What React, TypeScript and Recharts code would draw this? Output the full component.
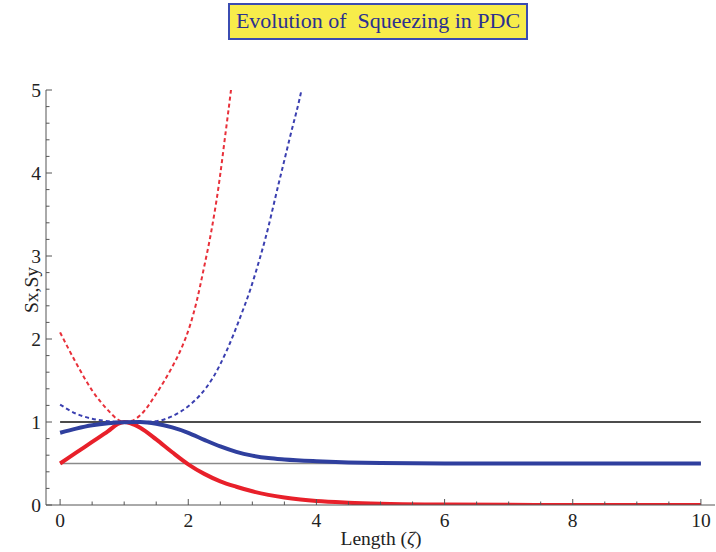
import React from "react";
import { LineChart, Line, XAxis, YAxis } from "recharts";

// Sx (solid red)
const sxZeta = [0, 0.25, 0.5, 0.75, 0.9, 1.0, 1.1, 1.25, 1.5, 1.75, 2.0, 2.25, 2.5, 2.75, 3.0, 3.25, 3.5, 3.75, 4.0, 4.5, 5, 6, 7, 8, 10];
const sxVals = [0.5, 0.63, 0.76, 0.89, 0.975, 1.0, 0.985, 0.93, 0.79, 0.635, 0.49, 0.375, 0.285, 0.22, 0.165, 0.122, 0.09, 0.066, 0.048, 0.028, 0.016, 0.006, 0.002, 0.001, 0];

// Sy (solid blue)
const syZeta = [0, 0.25, 0.5, 0.75, 1.0, 1.25, 1.5, 1.75, 2.0, 2.25, 2.5, 2.75, 3.0, 3.25, 3.5, 4.0, 4.5, 5, 6, 8, 10];
const syVals = [0.87, 0.92, 0.96, 0.985, 0.998, 1.0, 0.98, 0.935, 0.87, 0.785, 0.705, 0.64, 0.595, 0.565, 0.548, 0.527, 0.513, 0.506, 0.501, 0.5, 0.5];

// dashed red
const rdZeta = [0, 0.25, 0.5, 0.75, 0.9, 1.0, 1.1, 1.25, 1.5, 1.75, 1.9, 2.03, 2.13, 2.24, 2.36, 2.47, 2.58, 2.67, 2.72];
const rdVals = [2.08, 1.71, 1.38, 1.14, 1.03, 1.0, 1.01, 1.08, 1.34, 1.665, 1.9, 2.17, 2.45, 2.84, 3.3, 3.82, 4.47, 5.02, 5.35];

// dashed blue
const bdZeta = [0, 0.25, 0.5, 0.75, 1.0, 1.25, 1.5, 1.75, 2.0, 2.18, 2.39, 2.6, 2.81, 2.97, 3.12, 3.2, 3.41, 3.59, 3.78, 3.84];
const bdVals = [1.21, 1.1, 1.04, 1.01, 1.0, 1.0, 1.01, 1.07, 1.19, 1.32, 1.54, 1.86, 2.26, 2.6, 2.98, 3.2, 3.87, 4.44, 5.05, 5.3];

// reference levels
const levelZeta = [0, 10];
const unitLevel = [1, 1];
const halfLevel = [0.5, 0.5];

const xTicks = [0, 0.5, 1, 1.5, 2, 2.5, 3, 3.5, 4, 4.5, 5, 5.5, 6, 6.5, 7, 7.5, 8, 8.5, 9, 9.5, 10];
const yTicks = [0, 0.2, 0.4, 0.6, 0.8, 1, 1.2, 1.4, 1.6, 1.8, 2, 2.2, 2.4, 2.6, 2.8, 3, 3.2, 3.4, 3.6, 3.8, 4, 4.2, 4.4, 4.6, 4.8, 5];
const xMajor = [0, 2, 4, 6, 8, 10];
const yMajor = [0, 1, 2, 3, 4, 5];

const zip = (xs: number[], ys: number[]) => xs.map((x, i) => ({ x, y: ys[i] }));

const FONT = '"Liberation Serif", "Times New Roman", serif';
const TICK = "#555";
const FS = 19.5;

function BottomTick(props: any) {
  const { x, y, payload } = props;
  const major = xMajor.includes(payload.value);
  return (
    <g>
      <line x1={x} y1={y} x2={x} y2={y - (major ? 6 : 3.5)} stroke={TICK} />
      {major && (
        <text x={x} y={y + 22} textAnchor="middle" fontFamily={FONT} fontSize={FS} fill="#222">
          {payload.value}
        </text>
      )}
    </g>
  );
}

function TopTick(props: any) {
  const { x, y, payload } = props;
  const major = xMajor.includes(payload.value);
  return <line x1={x} y1={y} x2={x} y2={y + (major ? 6 : 3.5)} stroke={TICK} />;
}

function LeftTick(props: any) {
  const { x, y, payload } = props;
  const major = yMajor.includes(payload.value);
  return (
    <g>
      <line x1={x} y1={y} x2={x + (major ? 6 : 3.5)} y2={y} stroke={TICK} />
      {major && (
        <text x={x - 5} y={y + 6.5} textAnchor="end" fontFamily={FONT} fontSize={FS} fill="#222">
          {payload.value}
        </text>
      )}
    </g>
  );
}

function RightTick(props: any) {
  const { x, y, payload } = props;
  const major = yMajor.includes(payload.value);
  return <line x1={x} y1={y} x2={x - (major ? 6 : 3.5)} y2={y} stroke={TICK} />;
}

const xLabel = () => (
  <text x={381} y={545} textAnchor="middle" fontFamily={FONT} fontSize={FS} fill="#222">
    Length (<tspan fontStyle="italic">ζ</tspan>)
  </text>
);

const yLabel = () => (
  <text
    x={38}
    y={290}
    transform="rotate(-90, 38, 290)"
    textAnchor="middle"
    fontFamily={FONT}
    fontSize={FS}
    fill="#222"
  >
    Sx,Sy
  </text>
);

export default function App() {
  return (
    <div style={{ position: "absolute", left: 0, top: 0, width: 716, height: 552, background: "#fff" }}>
      <div
        style={{
          position: "absolute",
          left: 228,
          top: 3,
          width: 300,
          height: 37,
          boxSizing: "border-box",
          background: "#f7ec4a",
          border: "2px solid #3b4cb2",
          color: "#2b3090",
          fontFamily: FONT,
          fontSize: 22,
          lineHeight: "32px",
          textAlign: "center",
          whiteSpace: "pre",
        }}
      >
        Evolution of  Squeezing in PDC
      </div>
      <LineChart width={716} height={552} margin={{ top: 90, right: 1, bottom: 0, left: 0 }}>
        <XAxis
          xAxisId="b"
          dataKey="x"
          type="number"
          domain={[-0.22, 10.22]}
          allowDataOverflow
          ticks={xTicks}
          interval={0}
          tickSize={0}
          tickMargin={0}
          tick={<BottomTick />}
          height={47}
          axisLine={{ stroke: TICK }}
          label={xLabel}
        />
        <XAxis
          xAxisId="t"
          orientation="top"
          dataKey="x"
          type="number"
          domain={[-0.22, 10.22]}
          allowDataOverflow
          ticks={xTicks}
          interval={0}
          tickSize={0}
          tickMargin={0}
          tick={<TopTick />}
          height={0}
          axisLine={{ stroke: TICK }}
        />
        <YAxis
          yAxisId="l"
          type="number"
          domain={[0, 5]}
          allowDataOverflow
          ticks={yTicks}
          interval={0}
          tickSize={0}
          tickMargin={0}
          tick={<LeftTick />}
          width={46}
          axisLine={{ stroke: TICK }}
          label={yLabel}
        />
        <YAxis
          yAxisId="r"
          orientation="right"
          type="number"
          domain={[0, 5]}
          allowDataOverflow
          ticks={yTicks}
          interval={0}
          tickSize={0}
          tickMargin={0}
          tick={<RightTick />}
          width={0}
          axisLine={{ stroke: TICK }}
        />
        <Line xAxisId="b" yAxisId="l" data={zip(levelZeta, halfLevel)} dataKey="y" stroke="#8a8a8a" strokeWidth={1.5} dot={false} isAnimationActive={false} />
        <Line xAxisId="b" yAxisId="l" data={zip(levelZeta, unitLevel)} dataKey="y" stroke="#111" strokeWidth={1.3} dot={false} isAnimationActive={false} />
        <Line xAxisId="b" yAxisId="l" data={zip(rdZeta, rdVals)} dataKey="y" type="monotone" stroke="#e8303a" strokeWidth={2} strokeDasharray="4 3" dot={false} isAnimationActive={false} />
        <Line xAxisId="b" yAxisId="l" data={zip(bdZeta, bdVals)} dataKey="y" type="monotone" stroke="#3a3fb0" strokeWidth={2} strokeDasharray="4 3" dot={false} isAnimationActive={false} />
        <Line xAxisId="b" yAxisId="l" data={zip(sxZeta, sxVals)} dataKey="y" type="monotone" stroke="#e8202a" strokeWidth={4} dot={false} isAnimationActive={false} />
        <Line xAxisId="b" yAxisId="l" data={zip(syZeta, syVals)} dataKey="y" type="monotone" stroke="#2f3f9e" strokeWidth={4} dot={false} isAnimationActive={false} />
      </LineChart>
    </div>
  );
}
